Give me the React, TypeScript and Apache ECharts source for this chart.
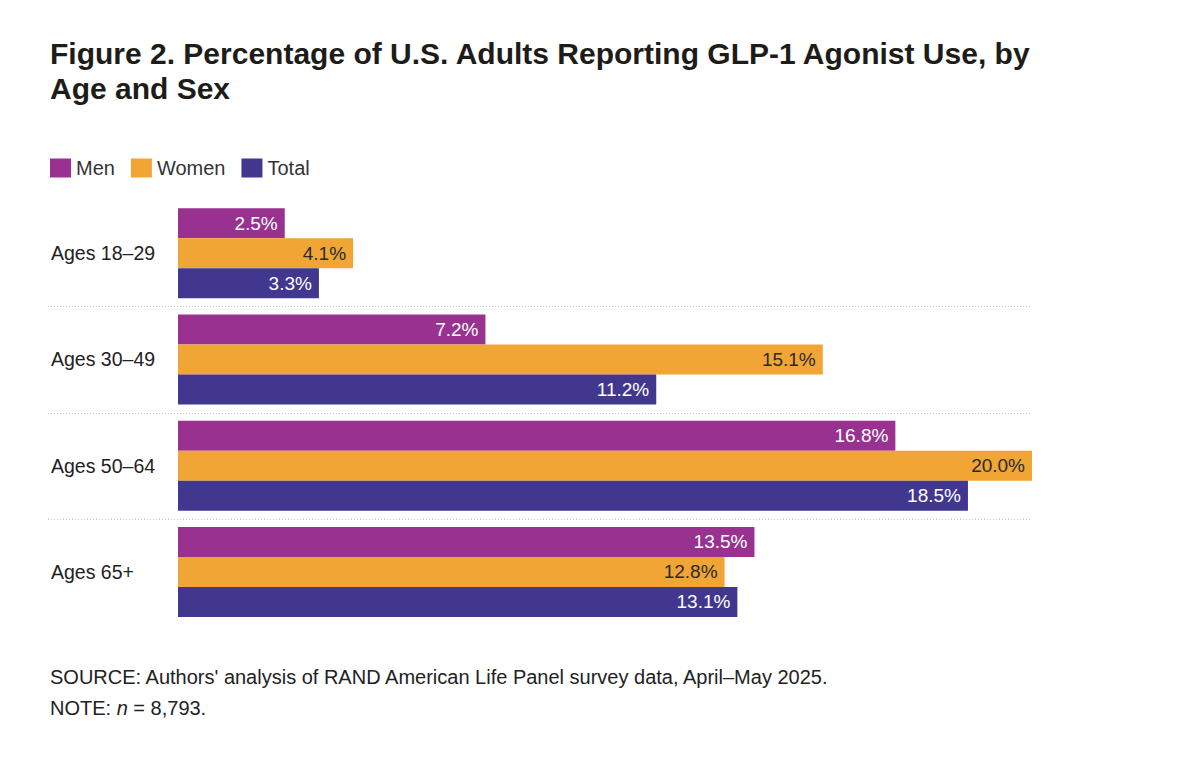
import { useRef, useEffect } from "react";
import * as echarts from "echarts";

const categories = ["Ages 18–29", "Ages 30–49", "Ages 50–64", "Ages 65+"];
const men = [2.5, 7.2, 16.8, 13.5];
const women = [4.1, 15.1, 20.0, 12.8];
const total = [3.3, 11.2, 18.5, 13.1];
const seriesNames = ["Men", "Women", "Total"];
const colors = ["#98318f", "#f0a535", "#41378f"];
const labelColors = ["#ffffff", "#2a2a2a", "#ffffff"];

const FONT = "'Liberation Sans', Arial, sans-serif";

const App = () => {
  const chartRef = useRef<HTMLDivElement>(null);

  useEffect(() => {
    document.body.style.margin = "0";
    const chart = echarts.init(chartRef.current, null, { renderer: "svg" });
    const values = [men, women, total];

    chart.setOption({
      animation: false,
      backgroundColor: "#ffffff",
      textStyle: { fontFamily: FONT },
      title: [
        {
          text: "Figure 2. Percentage of U.S. Adults Reporting GLP-1 Agonist Use, by\nAge and Sex",
          left: 50,
          top: 36,
          padding: 0,
          textStyle: {
            fontFamily: FONT,
            fontSize: 30,
            fontWeight: "bold",
            color: "#1d1c19",
            lineHeight: 35,
          },
        },
        {
          text: "SOURCE: Authors' analysis of RAND American Life Panel survey data, April–May 2025.\nNOTE: {i|n} = 8,793.",
          left: 50,
          top: 661,
          padding: 0,
          textStyle: {
            fontFamily: FONT,
            fontSize: 20,
            fontWeight: "normal",
            color: "#222222",
            lineHeight: 31,
            rich: {
              i: {
                fontFamily: FONT,
                fontSize: 20,
                fontStyle: "italic",
                fontWeight: "normal",
                color: "#222222",
              },
            },
          },
        },
      ],
      legend: {
        left: 50,
        top: 158,
        padding: 0,
        itemWidth: 21,
        itemHeight: 19,
        itemGap: 16,
        icon: "rect",
        textStyle: { fontFamily: FONT, fontSize: 20, color: "#333333" },
        data: seriesNames,
      },
      grid: { left: 178, right: 157, top: 200, height: 425, containLabel: false },
      xAxis: { type: "value", min: 0, max: 20, show: false },
      yAxis: {
        type: "category",
        inverse: true,
        data: categories,
        axisLine: { show: false },
        axisTick: { show: false },
        splitLine: { show: false },
        axisLabel: {
          align: "left",
          margin: 127,
          fontFamily: FONT,
          fontSize: 19.5,
          color: "#222222",
        },
      },
      series: seriesNames.map((name, i) => ({
        name,
        type: "bar",
        data: values[i],
        barWidth: 30,
        barGap: "0%",
        itemStyle: { color: colors[i] },
        label: {
          show: true,
          position: "insideRight",
          distance: 7,
          fontFamily: FONT,
          fontSize: 19,
          color: labelColors[i],
          formatter: (p: any) => p.value.toFixed(1) + "%",
        },
      })),
    });

    // dotted separators between age groups, placed from the axis scale
    const centers = categories.map(
      (c) => chart.convertToPixel({ yAxisIndex: 0 }, c) as number
    );
    const xEnd = chart.convertToPixel({ xAxisIndex: 0 }, 20) as number;
    const lines = [];
    for (let i = 0; i < centers.length - 1; i++) {
      const y = Math.round((centers[i] + centers[i + 1]) / 2) + 0.5;
      lines.push({
        type: "line",
        shape: { x1: 48, y1: y, x2: xEnd, y2: y },
        style: { stroke: "#c8c8c8", lineWidth: 1, lineDash: [1, 2] },
        silent: true,
      });
    }
    chart.setOption({ graphic: lines });

    return () => {
      chart.dispose();
    };
  }, []);

  return <div ref={chartRef} style={{ width: 1189, height: 768 }} />;
};

export default App;
